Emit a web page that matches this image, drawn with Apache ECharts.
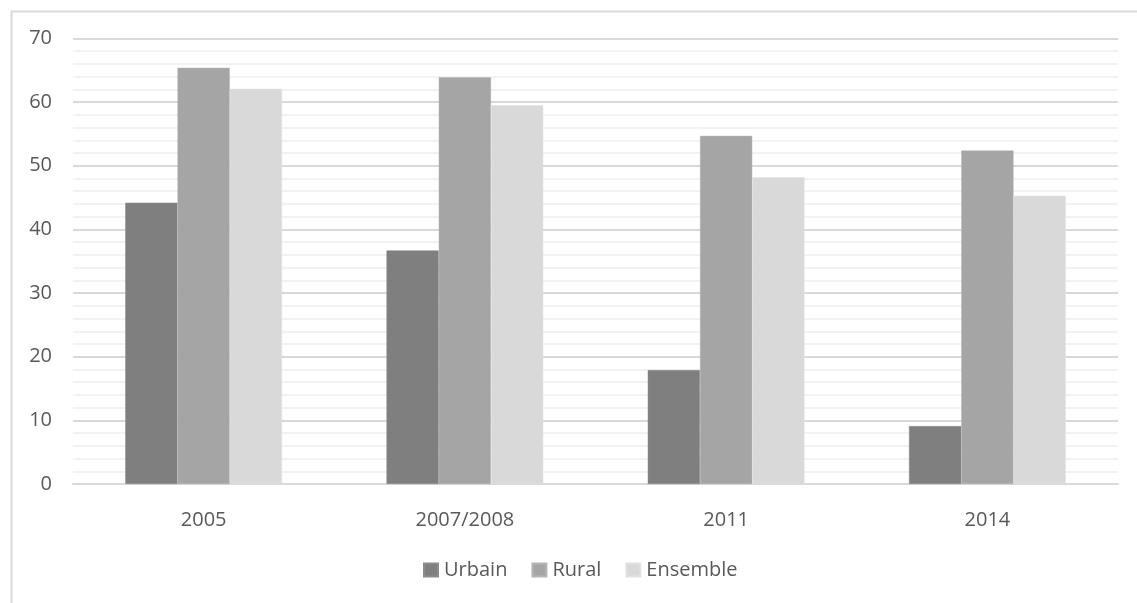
<!DOCTYPE html>
<html>
<head>
<meta charset="utf-8">
<script src="https://cdn.jsdelivr.net/npm/echarts@6/dist/echarts.min.js"></script>
<style>html,body{margin:0;padding:0;background:#fff;}#c{width:1137px;height:603px;}</style>
</head>
<body>
<div id="c"></div>
<script>
const categories = ['2005', '2007/2008', '2011', '2014'];
const urbain = [44.2, 36.7, 17.9, 9.1];
const rural = [65.4, 63.9, 54.7, 52.4];
const ensemble = [62.1, 59.5, 48.2, 45.3];
const yTicks = [0, 10, 20, 30, 40, 50, 60, 70];

const chart = echarts.init(document.getElementById('c'), null, {renderer: 'canvas'});
const font = '"Open Sans", sans-serif';
chart.setOption({
  animation: false,
  backgroundColor: '#fff',
  graphic: [{
    type: 'rect', left: 9, top: 9, silent: true, z: -10,
    shape: {width: 1200, height: 700},
    style: {fill: 'none', stroke: '#d9d9d9', lineWidth: 2}
  }],
  grid: {left: 73, right: 19, top: 38.5, bottom: 119, containLabel: false},
  legend: {
    top: 555, left: 418, itemWidth: 14, itemHeight: 13, itemGap: 24,
    icon: 'rect',
    textStyle: {color: '#595959', fontSize: 20, fontFamily: font, padding: [0, 0, 0, 1]}
  },
  xAxis: {
    type: 'category', data: categories,
    axisLine: {lineStyle: {color: '#d9d9d9', width: 2}},
    axisTick: {show: false},
    axisLabel: {color: '#595959', fontSize: 20, fontFamily: font, margin: 26}
  },
  yAxis: {
    type: 'value', min: yTicks[0], max: yTicks[yTicks.length - 1], interval: 10,
    axisLine: {show: false}, axisTick: {show: false},
    axisLabel: {color: '#595959', fontSize: 20, fontFamily: font, margin: 21},
    splitLine: {lineStyle: {color: '#d9d9d9', width: 2}},
    minorTick: {show: false, splitNumber: 5},
    minorSplitLine: {show: true, lineStyle: {color: '#f2f2f2', width: 2}}
  },
  series: [
    {name: 'Urbain', type: 'bar', data: urbain, barGap: '0%', barCategoryGap: '40%',
     itemStyle: {color: '#7f7f7f', borderColor: '#8c8c8c', borderWidth: 0.5}},
    {name: 'Rural', type: 'bar', data: rural, barGap: '0%', barCategoryGap: '40%',
     itemStyle: {color: '#a5a5a5', borderColor: '#b5b5b5', borderWidth: 0.5}},
    {name: 'Ensemble', type: 'bar', data: ensemble, barGap: '0%', barCategoryGap: '40%',
     itemStyle: {color: '#d9d9d9', borderColor: '#e2e2e2', borderWidth: 0.5}}
  ]
});
</script>
</body>
</html>
